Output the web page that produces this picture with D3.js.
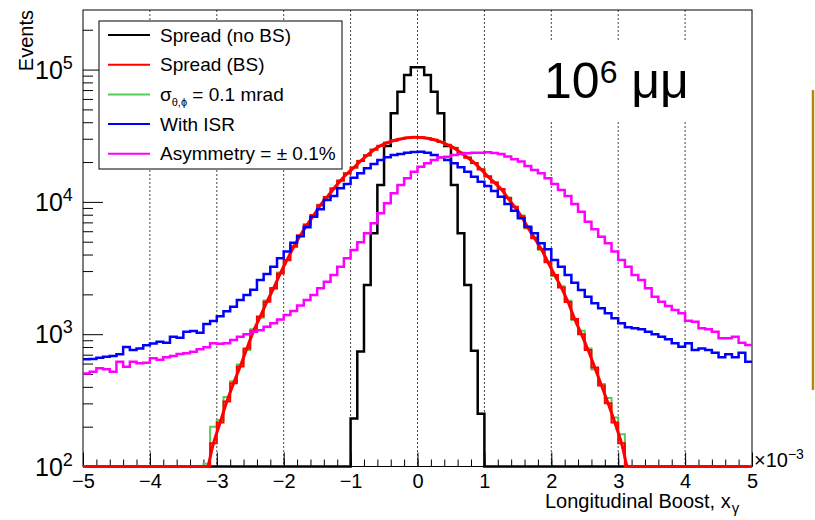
<!DOCTYPE html>
<html>
<head>
<meta charset="utf-8">
<script src="https://cdn.jsdelivr.net/npm/d3@7"></script>
<style>
body { margin: 0; background: #fff; }
svg { font-family: "Liberation Sans", Arial, sans-serif; }
</style>
</head>
<body>
<div id="chart"></div>
<script>
// histogram binning, x in units of 1e-3
var binLow = -5, binWidth = 0.1;

// Spread (no BS)
var spreadNoBS = [
	0, 0, 0, 0, 0, 0, 0, 0, 0, 0,
	0, 0, 0, 0, 0, 0, 0, 0, 0, 0,
	0, 0, 0, 0, 0, 0, 0, 0, 0, 0,
	0, 0, 0, 0, 0, 0, 0, 0, 0, 0,
	231, 740, 2350, 5800, 13400, 26400, 46800, 68100, 91000, 104000,
	104000, 91000, 68000, 46800, 26400, 13400, 5800, 2350, 750, 250,
	0, 0, 0, 0, 0, 0, 0, 0, 0, 0,
	0, 0, 0, 0, 0, 0, 0, 0, 0, 0,
	0, 0, 0, 0, 0, 0, 0, 0, 0, 0,
	0, 0, 0, 0, 0, 0, 0, 0, 0, 0
];
// Spread (BS)
var spreadBS = [
	0, 0, 0, 0, 0, 0, 0, 0, 0, 0,
	0, 0, 0, 0, 0, 0, 0, 0, 0, 150,
	215, 310, 425, 570, 780, 1060, 1360, 1760, 2230, 2880,
	3640, 4580, 5600, 6700, 7950, 9450, 10900, 12600, 14500, 16400,
	18200, 20400, 22500, 24800, 26600, 28000, 29100, 29900, 30500, 30800,
	30700, 30300, 29500, 28400, 27000, 25500, 23500, 21600, 19700, 17600,
	15600, 14000, 12500, 10700, 9200, 7800, 6400, 5300, 4400, 3500,
	2800, 2250, 1750, 1300, 1000, 760, 560, 410, 300, 215,
	150, 0, 0, 0, 0, 0, 0, 0, 0, 0,
	0, 0, 0, 0, 0, 0, 0, 0, 0, 0
];
// sigma(theta,phi) = 0.1 mrad
var sigmaAngle = [
	0, 0, 0, 0, 0, 0, 0, 0, 0, 0,
	0, 0, 0, 0, 0, 0, 0, 0, 105, 200,
	225, 335, 440, 590, 760, 1090, 1330, 1800, 2200, 2920,
	3600, 4650, 5550, 6800, 7900, 9500, 10800, 12700, 14400, 16500,
	18100, 20500, 22400, 24900, 26500, 28100, 29000, 30000, 30400, 30900,
	30600, 30400, 29400, 28500, 26900, 25600, 23400, 21700, 19600, 17700,
	15500, 14100, 12400, 10800, 9100, 7900, 6300, 5400, 4350, 3550,
	2750, 2300, 1790, 1280, 1060, 780, 540, 420, 330, 235,
	175, 0, 0, 0, 0, 0, 0, 0, 0, 0,
	0, 0, 0, 0, 0, 0, 0, 0, 0, 0
];
// With ISR
var withISR = [
	646, 650, 665, 676, 685, 705, 800, 760, 780, 825,
	852, 877, 860, 957, 940, 1045, 1055, 1026, 1195, 1260,
	1365, 1490, 1615, 1813, 1980, 2170, 2570, 2852, 3240, 3750,
	4210, 4900, 5500, 6430, 7730, 8790, 10320, 11070, 12680, 13650,
	15200, 16450, 17950, 19340, 20730, 21730, 22600, 23000, 23550, 23800,
	23950, 23550, 22600, 21700, 20700, 19600, 18280, 16900, 15500, 14200,
	13200, 12100, 10940, 9640, 8580, 7510, 6500, 5790, 4870, 4385,
	3640, 3240, 2800, 2450, 2158, 1920, 1713, 1570, 1440, 1320,
	1210, 1127, 1108, 1090, 1045, 1000, 957, 914, 853, 805,
	853, 760, 778, 760, 725, 668, 705, 668, 725, 620
];
// Asymmetry = +-0.1%
var asymmetry = [
	505, 521, 552, 543, 521, 620, 568, 620, 602, 608,
	657, 640, 668, 684, 709, 718, 738, 770, 795, 853,
	848, 855, 904, 957, 1000, 1045, 1070, 1140, 1210, 1290,
	1397, 1500, 1650, 1813, 1977, 2223, 2495, 2800, 3240, 3750,
	4330, 4950, 5800, 6890, 8200, 9750, 11600, 13400, 15070, 16900,
	18450, 19580, 20750, 21730, 21900, 22600, 23000, 23300, 23550, 23550,
	23700, 23450, 23000, 22000, 21000, 20150, 18680, 17400, 16450, 15070,
	13650, 12300, 11070, 9640, 8430, 7080, 6210, 5460, 4860, 4210,
	3640, 3240, 2800, 2570, 2223, 1920, 1760, 1634, 1523, 1440,
	1265, 1243, 1108, 1090, 1045, 931, 931, 957, 863, 828
];

var xTicks = [-5, -4, -3, -2, -1, 0, 1, 2, 3, 4, 5];
var xRange = [-5, 5];
var yRange = [100, 2.82e5];
var yDecades = [2, 3, 4, 5];

var width = 815, height = 520;
var margin = {left: 83, right: 63, top: 10, bottom: 53.5};
var w = width - margin.left - margin.right;
var h = height - margin.top - margin.bottom;

var svg = d3.select("#chart")
	.append("svg")
		.attr("width", width)
		.attr("height", height)
	.append("g")
		.attr("transform", "translate(" + margin.left + "," + margin.top + ")");

var x = d3.scaleLinear().domain(xRange).range([0, w]);
var y = d3.scaleLog().domain(yRange).range([h, 0]);

function yc(v) { return y(Math.max(v, yRange[0])); }

// vertical grid
svg.append("g").selectAll("line")
	.data(xTicks.filter(function(d) { return d > xRange[0] && d < xRange[1]; }))
	.enter().append("line")
		.attr("x1", x).attr("x2", x)
		.attr("y1", 0).attr("y2", h)
		.attr("stroke", "#444")
		.attr("stroke-width", 1)
		.attr("stroke-dasharray", "2,2");

// white box behind the big label
svg.append("rect")
	.attr("x", 445).attr("y", 32)
	.attr("width", 190).attr("height", 78)
	.attr("fill", "#fff");

svg.append("text")
	.attr("x", 461).attr("y", 88)
	.attr("font-size", 50)
	.call(function(t) {
		t.append("tspan").text("10");
		t.append("tspan").attr("font-size", 32).attr("dy", -15).text("6");
		t.append("tspan").attr("dy", 15).text(" \u03bc\u03bc");
	});

// frame
svg.append("rect")
	.attr("width", w).attr("height", h)
	.attr("fill", "none")
	.attr("stroke", "#000")
	.attr("stroke-width", 1);

// axes, ticks pointing inside the frame
var yMinor = [];
yDecades.forEach(function(e) {
	for (var m = 2; m <= 9; m++) {
		var v = m * Math.pow(10, e);
		if (v <= yRange[1]) yMinor.push(v);
	}
});
var xMinor = d3.range(-50, 51, 2).map(function(d) { return d / 10; });

svg.append("g")
	.call(d3.axisLeft(y).tickValues(yDecades.map(function(e) { return Math.pow(10, e); }))
		.tickSize(-20).tickSizeOuter(0).tickFormat(""));
svg.append("g")
	.call(d3.axisLeft(y).tickValues(yMinor).tickSize(-10).tickSizeOuter(0).tickFormat(""));

var xAxis = svg.append("g")
	.attr("transform", "translate(0," + h + ")")
	.call(d3.axisBottom(x).tickValues(xTicks).tickSize(-14).tickSizeOuter(0).tickPadding(7));
xAxis.selectAll("text").attr("font-size", 20).attr("font-family", null).attr("fill", "#000");
svg.append("g")
	.attr("transform", "translate(0," + h + ")")
	.call(d3.axisBottom(x).tickValues(xMinor).tickSize(-7).tickSizeOuter(0).tickFormat(""));

svg.selectAll(".tick line").attr("stroke", "#000");
svg.selectAll(".domain").remove();

// histograms, drawn over the frame like the original
function histPath(values) {
	var pts = values.map(function(v, i) { return [x(binLow + i * binWidth), yc(v)]; });
	pts.push([x(binLow + values.length * binWidth), yc(values[values.length - 1])]);
	return d3.line().curve(d3.curveStepAfter)(pts);
}
function centerPath(values) {
	var pts = values.map(function(v, i) { return [x(binLow + (i + 0.5) * binWidth), yc(v)]; });
	return d3.line().curve(d3.curveMonotoneX)(pts);
}

var series = [
	{key: "noBS", values: spreadNoBS, color: "#000000", width: 2.5},
	{key: "sigma", values: sigmaAngle, color: "#55cc55", width: 2},
	{key: "BS", values: spreadBS, color: "#ff0000", width: 2},
	{key: "ISR", values: withISR, color: "#0000ff", width: 2.5},
	{key: "asym", values: asymmetry, color: "#ff00ff", width: 2.5}
];

var histGroup = svg.append("g").attr("fill", "none");
series.forEach(function(s) {
	histGroup.append("path")
		.attr("d", histPath(s.values))
		.attr("stroke", s.color)
		.attr("stroke-width", s.width);
	if (s.key === "BS") {
		histGroup.append("path")
			.attr("d", centerPath(s.values))
			.attr("stroke", s.color)
			.attr("stroke-width", 3);
	}
});

// y tick labels 10^n
svg.append("g").selectAll("text")
	.data(yDecades)
	.enter().append("text")
		.attr("x", -48)
		.attr("y", function(e) { return y(Math.pow(10, e)) + 9; })
		.attr("font-size", 25)
		.each(function(e) {
			var t = d3.select(this);
			t.append("tspan").text("10");
			t.append("tspan").attr("font-size", 18).attr("dy", -10).text(e);
		});

// axis titles
svg.append("text")
	.attr("transform", "translate(-50,0) rotate(-90)")
	.attr("text-anchor", "end")
	.attr("font-size", 20)
	.text("Events");

svg.append("text")
	.attr("x", 462).attr("y", 498)
	.attr("font-size", 20)
	.call(function(t) {
		t.append("tspan").text("Longitudinal Boost, x");
		t.append("tspan").attr("font-size", 15).attr("dx", 1).attr("dy", 5).text("\u03b3");
	});

svg.append("text")
	.attr("x", w + 2).attr("y", h + 0.5)
	.attr("font-size", 20)
	.call(function(t) {
		t.append("tspan").text("\u00d710");
		t.append("tspan").attr("font-size", 14).attr("dy", -8).text("\u22123");
	});

// legend
var legendItems = [
	{label: "Spread (no BS)", color: "#000000"},
	{label: "Spread (BS)", color: "#ff0000"},
	{label: "sigma", color: "#55cc55"},
	{label: "With ISR", color: "#0000ff"},
	{label: "Asymmetry = \u00b1 0.1%", color: "#ff00ff"}
];
var legend = svg.append("g").attr("transform", "translate(16,11)");
legend.append("rect")
	.attr("width", 243).attr("height", 148)
	.attr("fill", "#fff")
	.attr("stroke", "#000")
	.attr("stroke-width", 1);
var rows = legend.selectAll("g.row")
	.data(legendItems)
	.enter().append("g")
		.attr("class", "row")
		.attr("transform", function(d, i) { return "translate(0," + (14 + i * 29.7) + ")"; });
rows.append("line")
	.attr("x1", 9).attr("x2", 51)
	.attr("stroke", function(d) { return d.color; })
	.attr("stroke-width", 2);
rows.append("text")
	.attr("x", 61).attr("dy", "0.35em")
	.attr("font-size", 19)
	.each(function(d) {
		var t = d3.select(this);
		if (d.label === "sigma") {
			t.append("tspan").text("\u03c3");
			t.append("tspan").attr("font-size", 11).attr("dy", 5).text("\u03b8,\u03d5");
			t.append("tspan").attr("dy", -5).text(" = 0.1 mrad");
		} else {
			t.text(d.label);
		}
	});

// stray slide decoration on the right
d3.select("svg").append("line")
	.attr("x1", 813).attr("x2", 813)
	.attr("y1", 90).attr("y2", 390)
	.attr("stroke", "#b8860b")
	.attr("stroke-width", 2.5);
</script>
</body>
</html>
